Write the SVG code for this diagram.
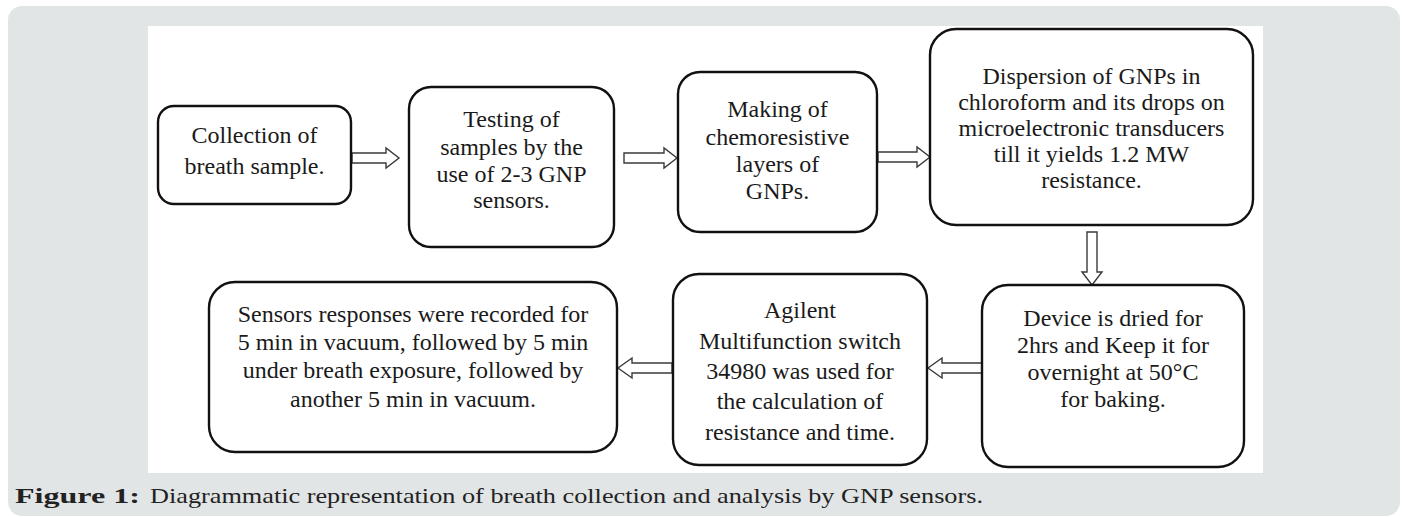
<svg xmlns="http://www.w3.org/2000/svg" width="1408" height="517" viewBox="0 0 1408 517">
  <style>
    .panel { fill: #e2e5e6; }
    .sheet { fill: #ffffff; }
    .box { fill: #ffffff; stroke: #111111; stroke-width: 2.4; }
    .lbl { font-family: "Liberation Serif", "Times New Roman", serif; font-size: 24px; fill: #1a1a1a; text-anchor: middle; }
    .arrow { fill: #ffffff; stroke: #3a3a3a; stroke-width: 1.4; stroke-linejoin: miter; }
    .cap { font-family: "Liberation Serif", "Times New Roman", serif; font-size: 22px; fill: #222222; }
  </style>

  <!-- page background and figure sheet -->
  <rect class="panel" x="8" y="6" width="1392" height="510" rx="14" ry="14"/>
  <rect class="sheet" x="148" y="26" width="1115" height="447"/>

  <!-- block arrows between steps -->
  <g id="connectors">
    <path class="arrow" d="M352,153 L386,153 L386,148 L399,158 L386,168 L386,163 L352,163 Z"/>
    <path class="arrow" d="M624,153 L664,153 L664,148 L677,158 L664,168 L664,163 L624,163 Z"/>
    <path class="arrow" d="M878,152 L917,152 L917,147 L930,157 L917,167 L917,162 L878,162 Z"/>
    <path class="arrow" d="M1087,232 L1087,272 L1082,272 L1092,285 L1102,272 L1097,272 L1097,232 Z"/>
    <path class="arrow" d="M982,363 L942,363 L942,358 L928,368 L942,378 L942,373 L982,373 Z"/>
    <path class="arrow" d="M672,363 L632,363 L632,358 L618,368 L632,378 L632,373 L672,373 Z"/>
  </g>

  <g id="step-collection">
    <rect class="box" x="158" y="106" width="193" height="98" rx="16" ry="16"/>
    <text class="lbl" x="254.5" y="143">Collection of</text>
    <text class="lbl" x="254.5" y="174">breath sample.</text>
  </g>

  <g id="step-testing">
    <rect class="box" x="409" y="87" width="205" height="160" rx="22" ry="22"/>
    <text class="lbl" x="511.5" y="127">Testing of</text>
    <text class="lbl" x="511.5" y="155">samples by the</text>
    <text class="lbl" x="511.5" y="182">use of 2-3 GNP</text>
    <text class="lbl" x="511.5" y="208">sensors.</text>
  </g>

  <g id="step-layers">
    <rect class="box" x="678" y="72" width="199" height="160" rx="22" ry="22"/>
    <text class="lbl" x="777.5" y="117">Making of</text>
    <text class="lbl" x="777.5" y="145">chemoresistive</text>
    <text class="lbl" x="777.5" y="172">layers of</text>
    <text class="lbl" x="777.5" y="199">GNPs.</text>
  </g>

  <g id="step-dispersion">
    <rect class="box" x="930" y="29" width="323" height="196" rx="26" ry="26"/>
    <text class="lbl" x="1091.5" y="84">Dispersion of GNPs in</text>
    <text class="lbl" x="1091.5" y="110">chloroform and its drops on</text>
    <text class="lbl" x="1091.5" y="136">microelectronic transducers</text>
    <text class="lbl" x="1091.5" y="162">till it yields 1.2 MW</text>
    <text class="lbl" x="1091.5" y="188">resistance.</text>
  </g>

  <g id="step-drying">
    <rect class="box" x="982" y="285" width="262" height="182" rx="26" ry="26"/>
    <text class="lbl" x="1113" y="326">Device is dried for</text>
    <text class="lbl" x="1113" y="353">2hrs and Keep it for</text>
    <text class="lbl" x="1113" y="380">overnight at 50°C</text>
    <text class="lbl" x="1113" y="407">for baking.</text>
  </g>

  <g id="step-switch">
    <rect class="box" x="673" y="274" width="254" height="191" rx="26" ry="26"/>
    <text class="lbl" x="800" y="318">Agilent</text>
    <text class="lbl" x="800" y="349">Multifunction switch</text>
    <text class="lbl" x="800" y="379">34980 was used for</text>
    <text class="lbl" x="800" y="409">the calculation of</text>
    <text class="lbl" x="800" y="440">resistance and time.</text>
  </g>

  <g id="step-recording">
    <rect class="box" x="209" y="282" width="408" height="170" rx="26" ry="26"/>
    <text class="lbl" x="413" y="322">Sensors responses were recorded for</text>
    <text class="lbl" x="413" y="350">5 min in vacuum, followed by 5 min</text>
    <text class="lbl" x="413" y="378">under breath exposure, followed by</text>
    <text class="lbl" x="413" y="407">another 5 min in vacuum.</text>
  </g>

  <!-- figure caption -->
  <text class="cap" x="15" y="503" font-weight="bold" font-size="23" textLength="125" lengthAdjust="spacingAndGlyphs">Figure 1:</text>
  <text class="cap" x="150" y="503" textLength="833" lengthAdjust="spacingAndGlyphs">Diagrammatic representation of breath collection and analysis by GNP sensors.</text>
</svg>
